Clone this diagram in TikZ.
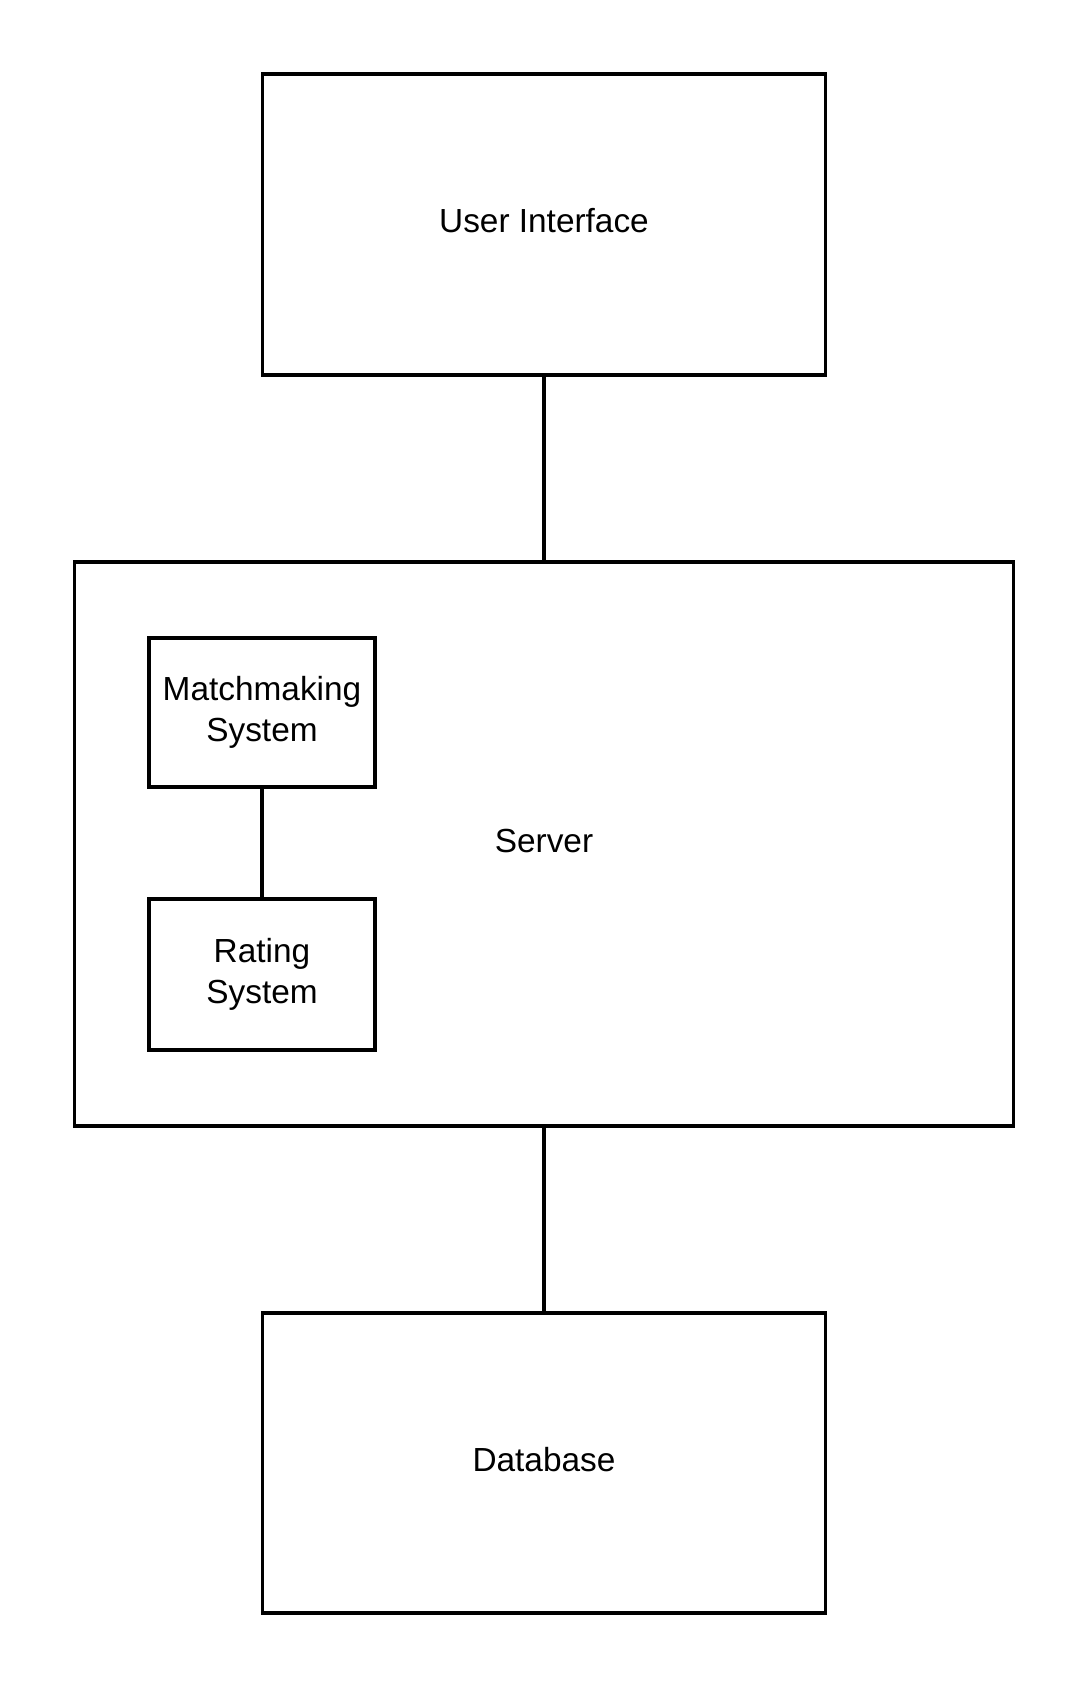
\documentclass[tikz,border=0pt]{standalone}
\usepackage{fontspec}
\setmainfont{Liberation Sans}
\usepackage{tikz}

\begin{document}
\begin{tikzpicture}[
    box/.style={draw, line width=0.9pt, align=center, inner sep=0pt,
      font=\fontsize{9.5}{11.6}\selectfont},
    onebox/.style={box, text height=0.72em, text depth=0.26em},
    link/.style={line width=1pt}]

      \useasboundingbox (0,0) rectangle (10.88,16.88);

      \node [onebox, minimum width=5.63cm, minimum height=3.01cm] (ui) at (5.44,14.635) {User Interface};

      \node [onebox, minimum width=9.39cm, minimum height=5.64cm] (server) at (5.44,8.44) {Server};

      \node [box, minimum width=2.26cm, minimum height=1.49cm] (match) at (2.62,9.755) {Matchmaking\\System};
      \node [box, minimum width=2.26cm, minimum height=1.51cm] (rating) at (2.62,7.135) {Rating\\System};

      \node [onebox, minimum width=5.63cm, minimum height=3.0cm] (db) at (5.44,2.25) {Database};


      \draw [link] (ui.south) -- (server.north);
      \draw [link] (match.south) -- (rating.north);
      \draw [link] (server.south) -- (db.north);

    \end{tikzpicture}
\end{document}
